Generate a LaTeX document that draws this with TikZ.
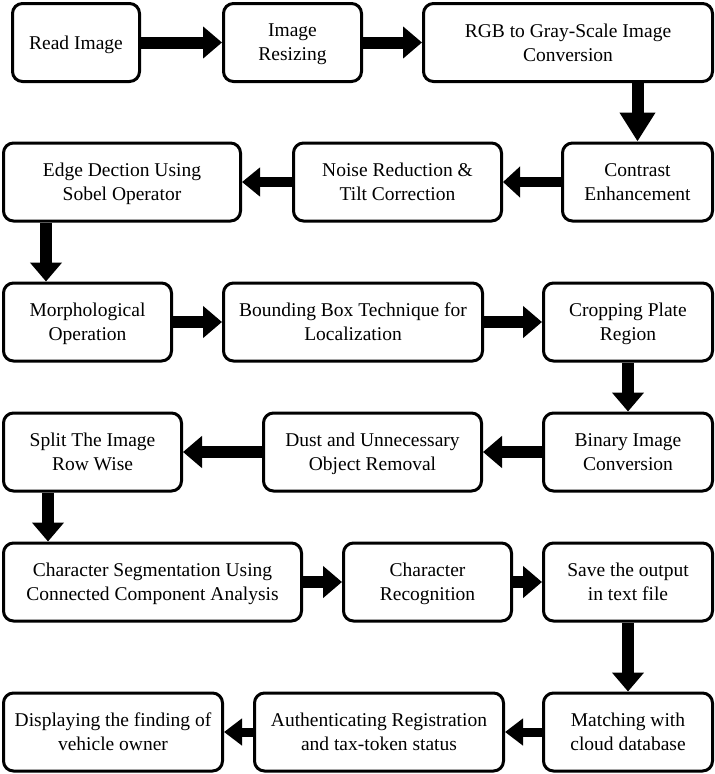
\documentclass[tikz,border=0pt]{standalone}
\usepackage{fontspec}
\setmainfont{Liberation Serif}
\usetikzlibrary{arrows.meta}
\begin{document}
\begin{tikzpicture}[x=1pt,y=-1pt,
  box/.style={draw=black, line width=3pt, rounded corners=10pt, fill=white,
    minimum height=78pt, align=center, inner sep=0pt, text depth=-4pt,
    font=\fontsize{19.5}{24}\selectfont},
  flow/.style={line width=12pt, -{Triangle[length=19pt,width=31pt]}},
  flowthin/.style={line width=9pt, -{Triangle[length=18pt,width=26pt]}}]
\useasboundingbox (0,0) rectangle (715,774);
% row 1
\node[box, minimum width=127pt] (read) at (76,42.5) {Read Image};
\node[box, minimum width=138pt] (resize) at (292.5,42.5) {Image\\Resizing};
\node[box, minimum width=289pt] (rgb) at (568,42.5) {RGB to Gray-Scale Image\\Conversion};
% row 2
\node[box, minimum width=237pt] (edge) at (122,182) {Edge Dection Using\\Sobel Operator};
\node[box, minimum width=208pt] (noise) at (397.5,182) {Noise Reduction \&\\Tilt Correction};
\node[box, minimum width=150pt] (contrast) at (637.5,182) {Contrast\\Enhancement};
% row 3
\node[box, minimum width=168pt] (morph) at (87.5,322) {Morphological\\Operation};
\node[box, minimum width=259pt] (bbox) at (353,322) {Bounding Box Technique for\\Localization};
\node[box, minimum width=169pt] (crop) at (628,322) {Cropping Plate\\Region};
% row 4
\node[box, minimum width=178pt] (split) at (92.5,452) {Split The Image\\Row Wise};
\node[box, minimum width=218pt] (dust) at (372.5,452) {Dust and Unnecessary\\Object Removal};
\node[box, minimum width=169pt] (binary) at (628,452) {Binary Image\\Conversion};
% row 5
\node[box, minimum width=298pt] (seg) at (152.5,582) {Character Segmentation Using\\Connected Component Analysis};
\node[box, minimum width=168pt] (recog) at (427.5,582) {Character\\Recognition};
\node[box, minimum width=169pt] (save) at (628,582) {Save the output\\in text file};
% row 6
\node[box, minimum width=219pt] (disp) at (113,732) {Displaying the finding of\\vehicle owner};
\node[box, minimum width=249pt] (auth) at (379,732) {Authenticating Registration\\and tax-token status};
\node[box, minimum width=169pt] (match) at (628,732) {Matching with\\cloud database};
% connectors
\draw[flow] (read.east) -- (resize.west);
\draw[flow] (resize.east) -- (rgb.west);
\draw[line width=12pt, -{Triangle[length=29pt,width=34pt]}] (rgb.south -| contrast.north) -- (contrast.north);
\draw[line width=10pt, -{Triangle[length=17pt,width=30pt]}] (contrast.west) -- (noise.east);
\draw[line width=10pt, -{Triangle[length=18pt,width=28pt]}] (noise.west) -- (edge.east);
\coordinate (e1) at ([xshift=44pt]edge.south west);
\draw[flow] (e1) -- (e1 |- morph.north);
\draw[flow] (morph.east) -- (bbox.west);
\draw[flow] (bbox.east) -- (crop.west);
\draw[flow] (crop.south) -- (binary.north);
\draw[flow] (binary.west) -- (dust.east);
\draw[flow] (dust.west) -- (split.east);
\coordinate (s1) at ([xshift=46pt]split.south west);
\draw[flow] (s1) -- (s1 |- seg.north);
\draw[flow] (seg.east) -- (recog.west);
\draw[flow] (recog.east) -- (save.west);
\draw[flow] (save.south) -- (match.north);
\draw[flowthin] (match.west) -- (auth.east);
\draw[flowthin] (auth.west) -- (disp.east);
\end{tikzpicture}
\end{document}
